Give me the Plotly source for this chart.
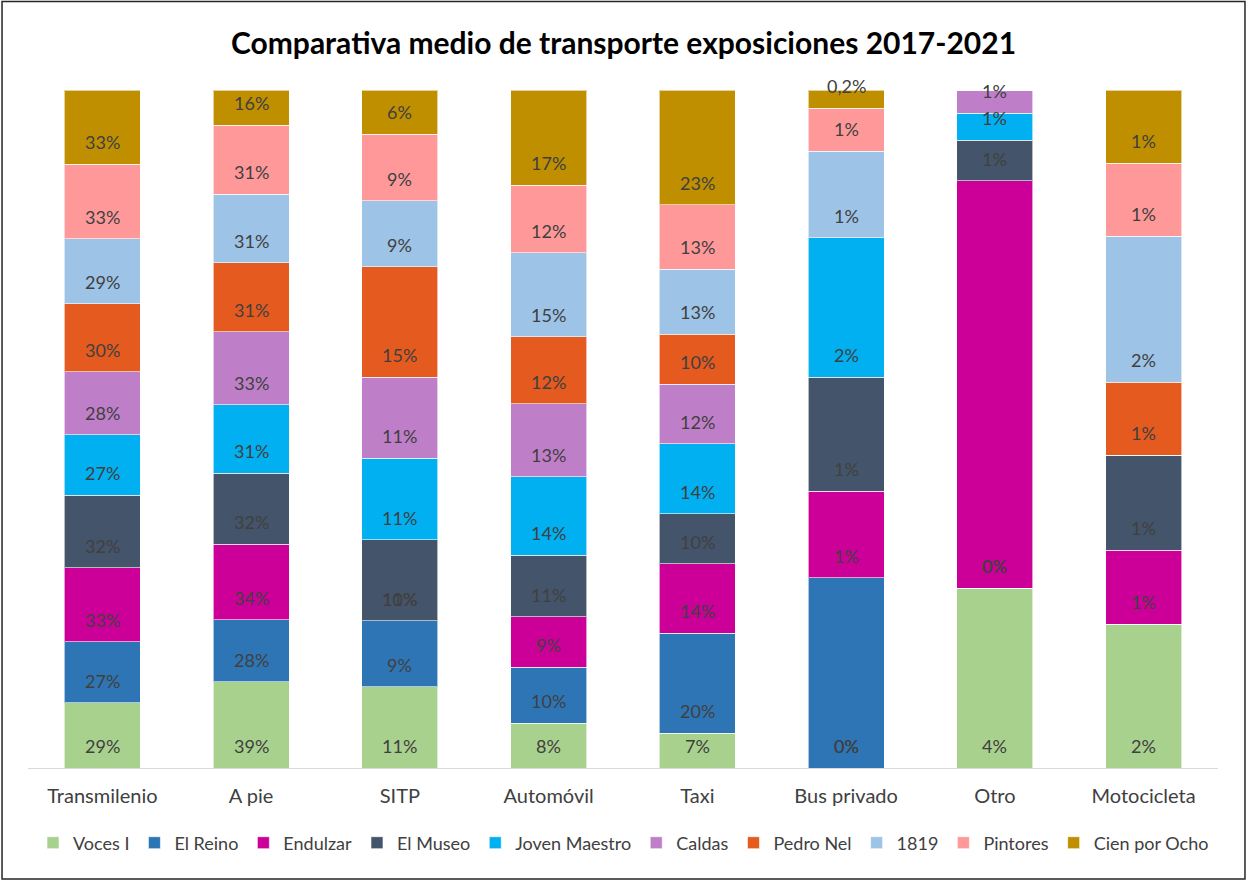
import plotly.graph_objects as go

modes = ["Transmilenio", "A pie", "SITP", "Automóvil", "Taxi", "Bus privado", "Otro", "Motocicleta"]

series = ["Voces I", "El Reino", "Endulzar", "El Museo", "Joven Maestro",
          "Caldas", "Pedro Nel", "1819", "Pintores", "Cien por Ocho"]

colors = ["#A9D18E", "#2E75B6", "#CC0099", "#44546A", "#00B0F0",
          "#BF7FC8", "#E55A1E", "#9DC3E6", "#FF9999", "#BF8F00"]

# Segment sizes (relative share within each column)
voces_i = [29, 39, 11, 8, 7, 0, 26.5, 21.2]
el_reino = [27, 28, 9, 10, 20, 28.0, 0, 0]
endulzar = [33, 34, 0, 9, 14, 12.8, 60.0, 10.9]
el_museo = [32, 32, 11, 11, 10, 16.8, 6.0, 14.0]
joven_maestro = [27, 31, 11, 14, 14, 20.5, 4.0, 0]
caldas = [28, 33, 11, 13, 12, 0, 3.4, 0]
pedro_nel = [30, 31, 15, 12, 10, 0, 0, 10.8]
s1819 = [29, 31, 9, 15, 13, 12.8, 0, 21.5]
pintores = [33, 31, 9, 12, 13, 6.3, 0, 10.8]
cien_por_ocho = [33, 16, 6, 17, 23, 2.7, 0, 10.8]

# Data labels shown on the bars (placed at the inside base of each segment)
lbl_voces_i = ["29%", "39%", "11%", "8%", "7%", "0%", "4%", "2%"]
lbl_el_reino = ["27%", "28%", "9%", "10%", "20%", "0%", "0%", ""]
lbl_endulzar = ["33%", "34%", "10%", "9%", "14%", "1%", "0%", "1%"]
lbl_el_museo = ["32%", "32%", "11%", "11%", "10%", "1%", "1%", "1%"]
lbl_joven_maestro = ["27%", "31%", "11%", "14%", "14%", "2%", "1%", ""]
lbl_caldas = ["28%", "33%", "11%", "13%", "12%", "", "1%", ""]
lbl_pedro_nel = ["30%", "31%", "15%", "12%", "10%", "", "", "1%"]
lbl_1819 = ["29%", "31%", "9%", "15%", "13%", "1%", "", "2%"]
lbl_pintores = ["33%", "31%", "9%", "12%", "13%", "1%", "", "1%"]
lbl_cien_por_ocho = ["33%", "16%", "6%", "17%", "23%", "0,2%", "", "1%"]

values = [voces_i, el_reino, endulzar, el_museo, joven_maestro,
          caldas, pedro_nel, s1819, pintores, cien_por_ocho]
labels = [lbl_voces_i, lbl_el_reino, lbl_endulzar, lbl_el_museo, lbl_joven_maestro,
          lbl_caldas, lbl_pedro_nel, lbl_1819, lbl_pintores, lbl_cien_por_ocho]

FONT = "Lato"
TXT = "#404040"

fig = go.Figure()
for name, vals, col in zip(series, values, colors):
    fig.add_trace(go.Bar(
        name=name, x=modes, y=vals,
        marker=dict(color=col, line=dict(color="rgba(255,255,255,0.6)", width=1)),
        hoverinfo="x+y+name",
    ))

# Data labels at the inside base of each stacked segment (percent-normalised)
totals = [sum(v[j] for v in values) for j in range(len(modes))]
annotations = []
for j, m in enumerate(modes):
    base = 0.0
    for vals, lbls in zip(values, labels):
        if lbls[j]:
            annotations.append(dict(
                x=m, y=base / totals[j] * 100, xref="x", yref="y",
                text=lbls[j], showarrow=False, yshift=22, yanchor="middle",
                font=dict(family=FONT, size=18, color=TXT)))
        base += vals[j]

fig.update_layout(
    barmode="stack", barnorm="percent", bargap=0.49,
    width=1247, height=883,
    margin=dict(l=27.5, r=28.5, t=90, b=115, autoexpand=False),
    paper_bgcolor="white", plot_bgcolor="white",
    title=dict(text="<b>Comparativa medio de transporte exposiciones 2017-2021</b>",
               x=0.5, xanchor="center", y=1 - 43 / 883, yanchor="middle",
               font=dict(family=FONT, size=30, color="black")),
    font=dict(family=FONT, size=20, color=TXT),
    legend=dict(orientation="h", xref="container", yref="container",
                x=0.5, xanchor="center", y=1 - 843 / 883, yanchor="middle",
                font=dict(family=FONT, size=18, color=TXT),
                itemwidth=30, traceorder="normal"),
    xaxis=dict(showline=True, linecolor="#D9D9D9", linewidth=1, ticks="",
               ticklabelstandoff=10,
               tickfont=dict(family=FONT, size=20, color=TXT), showgrid=False),
    yaxis=dict(visible=False, range=[0, 100], showgrid=False),
    annotations=annotations,
)

fig.add_shape(type="rect", xref="paper", yref="paper",
              x0=(1.5 - 27.5) / 1191, x1=(1245.5 - 27.5) / 1191,
              y0=(768 - 879) / 678, y1=(768 - 1.5) / 678,
              line=dict(color="#262626", width=1.5), layer="below")

fig.write_html("out.html", config={"displayModeBar": False},
               post_script="document.body.style.margin='0';")
